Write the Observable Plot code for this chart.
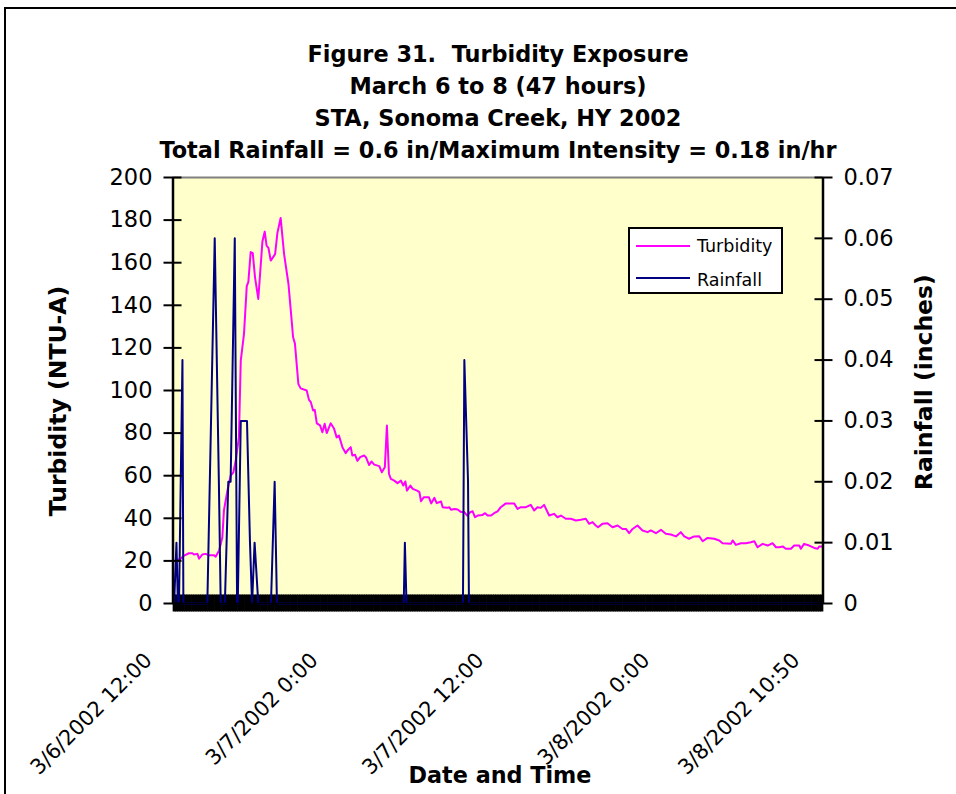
<!DOCTYPE html>
<html><head><meta charset="utf-8">
<script src="https://cdn.jsdelivr.net/npm/d3@7"></script>
<script src="https://cdn.jsdelivr.net/npm/@observablehq/plot@0.6"></script>
<style>
html,body{margin:0;padding:0;background:#fff;overflow:hidden;}
#root{position:relative;width:956px;height:794px;font-family:"DejaVu Sans",sans-serif;color:#000;}
#border{position:absolute;left:4px;top:7px;width:1000px;height:900px;border:2px solid #000;pointer-events:none;z-index:5;}
#title{position:absolute;left:0;top:38px;width:996px;text-align:center;font-weight:bold;font-size:22.4px;line-height:32px;white-space:pre;}
#chart{position:absolute;left:0;top:166px;}
#legend{position:absolute;left:628px;top:227px;width:155px;height:67px;box-sizing:border-box;border:2px solid #000;background:#fff;z-index:3;font-size:17.5px;}
#legend .ln{position:absolute;left:6px;width:54px;height:2px;}
#legend .tx{position:absolute;left:67px;line-height:17.5px;white-space:nowrap;}
</style></head>
<body><div id="root"><div id="title"></div><div id="chart"></div><div id="legend"></div><div id="border"></div></div>
<script>
// ---- data ----
const titleLines = [
  "Figure 31.  Turbidity Exposure",
  "March 6 to 8 (47 hours)",
  "STA, Sonoma Creek, HY 2002",
  "Total Rainfall = 0.6 in/Maximum Intensity = 0.18 in/hr"
];
const yTitleLeft = "Turbidity (NTU-A)";
const yTitleRight = "Rainfall (inches)";
const xTitle = "Date and Time";
const seriesNames = ["Turbidity", "Rainfall"];
const seriesColors = ["#FF00FF", "#000080"];

// minutes after 3/6/2002 12:00
const turbMinutes = [0,28,43,64,79,86,101,108,122,137,151,173,180,195,209,216,231,245,257,267,281,289,303,315,322,332,341,351,365,383,393,401,409,419,438,448,462,477,496,506,516,524,539,549,575,585,593,603,610,619,633,643,653,662,679,694,705,715,730,744,754,766,773,785,795,807,824,832,846,856,868,890,901,914,923,932,940,955,969,984,994,1003,1010,1025,1035,1054,1064,1071,1083,1105,1115,1129,1139,1158,1165,1184,1194,1201,1216,1230,1245,1259,1271,1285,1295,1305,1317,1338,1349,1360,1375,1388,1403,1417,1439,1475,1490,1504,1526,1547,1562,1576,1591,1605,1627,1648,1663,1678,1699,1721,1743,1764,1786,1800,1815,1829,1839,1858,1880,1902,1924,1945,1960,1974,1989,2010,2032,2054,2068,2090,2112,2133,2155,2177,2198,2213,2234,2256,2278,2293,2314,2343,2365,2379,2415,2423,2437,2459,2480,2502,2517,2531,2553,2575,2596,2611,2625,2640,2654,2676,2690,2712,2719,2733,2755,2777,2792,2799,2810];
const turbValues = [20,21,22.5,23.6,23.6,23,23.3,21,23,23.3,22.6,22.6,22,24.9,31,43.7,53,60,61.6,67,78,114,126.6,149,151,165,164.5,153,143,170,174.6,168,167,161,164,174,181,164,150,137.6,125,122,103,101,100,95.6,94.5,90.6,90.9,84.6,83.6,80.4,84.4,80,84.6,82,78,78.9,73.4,70.6,72.1,73.4,69.5,69.8,67,68.7,69.5,68.7,65,66.7,65.2,64.5,61.6,64,83.6,60.9,58.5,57.7,56.5,57.7,55.4,57.3,53,55.4,53.8,53,52.3,48,49.9,49.9,47,49.6,47.1,47.9,45.2,44.9,45.2,44,44.4,44.1,42.9,42.9,41.3,42.9,43.3,40.5,41.3,41.6,42.4,41.3,41.3,42.4,43.3,45.2,47,47,44.4,45.2,45.2,46.3,43.7,45.2,44.9,46.3,41.3,42.1,40.5,41.3,39.8,39.8,39,39.3,39.8,37.4,38.2,36.6,35.8,37.4,37.7,35.8,36.6,35,35,33,35,36.6,34.3,33.5,34.3,33,34.6,32.7,32.4,31.5,33.5,31.5,30.4,31.5,31.6,29.2,30.8,30.4,29.6,28.3,28,29.6,27.5,28.3,28.3,28.8,29.2,26.4,28,27.2,28.3,26.4,26.4,26.8,25.7,25.7,27.2,27.2,25.7,28,27.2,26.1,25.7,26.8,26.8];

const rainMinutes = [0,10,16,21,36,40,144,176,194,202,220,235,245,263,273,276,289,316,329,338,349,365,420,436,446,996,1001,1008,1253,1259,1275,1279,2810];
const rainValues  = [0,0.01,0,0,0.04,0,0,0.06,0.02,0,0,0.02,0.02,0.06,0,0,0.03,0.03,0.01,0,0.01,0,0,0.02,0,0,0.01,0,0,0.04,0.02,0,0];

const leftTicks = [0,20,40,60,80,100,120,140,160,180,200];
const rightTicks = [0,0.01,0.02,0.03,0.04,0.05,0.06,0.07];
const xLabelMinutes = [0,720,1440,2160,2810];
const xLabelText = ["3/6/2002 12:00","3/7/2002 0:00","3/7/2002 12:00","3/8/2002 0:00","3/8/2002 10:50"];

// ---- build ----
const start = Date.UTC(2002, 2, 6, 12, 0);
const t = m => new Date(start + m * 60000);
const K = 200 / 0.07; // rainfall -> left-axis units
const turb = turbMinutes.map((m, i) => ({t: t(m), v: turbValues[i]}));
const rain = rainMinutes.map((m, i) => ({t: t(m), v: rainValues[i] * K}));
const categoryTicks = d3.range(0, 2811, 10).map(t);
const x0 = t(-5), x1 = t(2815);

document.getElementById("title").innerHTML = titleLines.map(s => `<div>${s}</div>`).join("");

const fmtRight = d => { const v = Math.round(d / K * 100) / 100; return v === 0 ? "0" : v.toFixed(2); };

const chart = Plot.plot({
  width: 956, height: 628,
  marginTop: 11, marginBottom: 191, marginLeft: 172.5, marginRight: 133.5,
  x: {type: "utc", domain: [x0, x1]},
  y: {domain: [0, 200]},
  style: {background: "transparent", fontFamily: "DejaVu Sans", color: "black", overflow: "visible"},
  marks: [
    Plot.frame({fill: "#FFFFCC", stroke: "none"}),
    Plot.ruleY([200], {stroke: "#808080", strokeWidth: 2}),
    Plot.axisX({ticks: categoryTicks, tickSize: 17, dy: -8.5, tickFormat: () => "", label: null, strokeWidth: 3}),
    Plot.line(turb, {x: "t", y: "v", stroke: seriesColors[0], strokeWidth: 2}),
    Plot.line(rain, {x: "t", y: "v", stroke: seriesColors[1], strokeWidth: 2}),
    Plot.ruleY([0], {stroke: "black", strokeWidth: 1.5}),
    Plot.ruleX([x0], {stroke: "black", strokeWidth: 2.5}),
    Plot.ruleX([x1], {stroke: "black", strokeWidth: 2.5}),
    Plot.axisY({anchor: "left", ticks: leftTicks, tickSize: 18, dx: 9, tickPadding: 11.5, fontSize: 22.5, label: null, strokeWidth: 2}),
    Plot.axisY({anchor: "right", ticks: rightTicks.map(v => v * K), tickFormat: fmtRight, tickSize: 18, dx: -9, tickPadding: 11.5, fontSize: 22.5, label: null, strokeWidth: 2}),
    Plot.text(xLabelMinutes, {x: m => t(m), text: (m, i) => xLabelText[i], frameAnchor: "bottom", rotate: -45, textAnchor: "end", lineAnchor: "bottom", dx: -21, dy: 58, fontSize: 21, fill: "black"}),
    Plot.text([yTitleLeft], {text: d => d, frameAnchor: "left", textAnchor: "middle", rotate: -90, dx: -114.4, dy: 10.5, fontSize: 23.5, fontWeight: "bold", fill: "black"}),
    Plot.text([yTitleRight], {text: d => d, frameAnchor: "right", textAnchor: "middle", rotate: -90, dx: 101.5, dy: -8.3, fontSize: 23.5, fontWeight: "bold", fill: "black"}),
    Plot.text([xTitle], {text: d => d, frameAnchor: "bottom", lineAnchor: "bottom", dx: 2, dy: 179.7, fontSize: 22.3, fontWeight: "bold", fill: "black"})
  ]
});
document.getElementById("chart").append(chart);

// legend
const lineTops = [16, 47.7];
const textTops = [9, 43];
document.getElementById("legend").innerHTML = seriesNames.map((n, i) =>
  `<div class="ln" style="top:${lineTops[i]}px;background:${seriesColors[i]}"></div><div class="tx" style="top:${textTops[i]}px">${n}</div>`
).join("");
</script></body></html>
